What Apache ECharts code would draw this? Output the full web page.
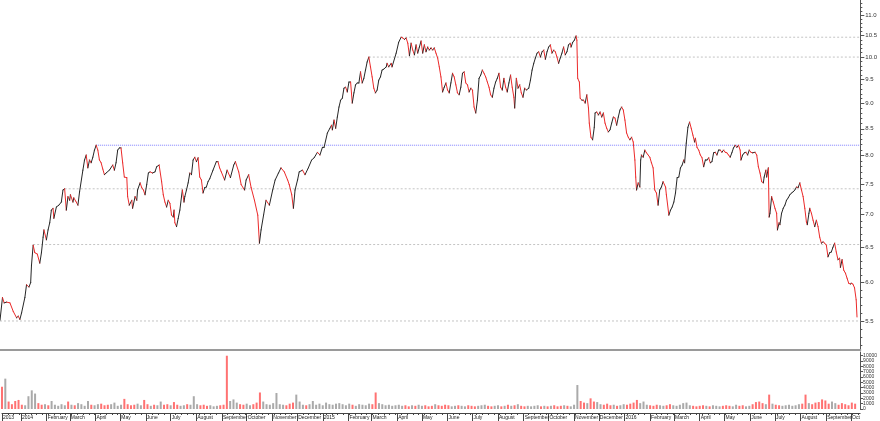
<!DOCTYPE html>
<html><head><meta charset="utf-8">
<script src="https://cdn.jsdelivr.net/npm/echarts@6/dist/echarts.min.js"></script>
<style>html,body{margin:0;padding:0;background:#fff}#c{width:880px;height:421px}</style>
</head><body><div id="c"></div>
<script>
// ---- data ----
const startDate = '2013-12-09';
const endDate = '2016-10-12';

// calendar-day offsets from startDate of each price reading
const priceDays = [
0,3,5,8,12,16,20,22,24,26,
30,32,35,37,38,40,42,45,48,50,
52,53,56,58,60,62,64,65,68,71,
74,76,78,80,82,84,85,88,89,92,
94,96,100,102,104,106,108,110,112,114,
116,118,120,122,124,126,128,132,136,138,
140,142,144,146,148,150,153,154,156,159,
160,163,165,166,169,171,173,175,177,179,
181,184,187,189,192,195,197,199,201,203,
205,207,209,210,211,213,215,217,219,220,
222,223,225,227,229,231,233,235,237,239,
241,243,245,247,249,251,253,257,261,263,
265,267,271,274,278,282,284,288,291,295,
297,300,303,307,311,313,315,318,321,325,
329,332,336,339,343,347,349,352,354,356,
359,361,365,368,372,376,379,383,386,389,
391,395,398,400,401,403,405,407,409,411,
413,415,417,419,421,423,425,427,429,431,
433,435,437,439,441,443,445,447,449,451,
453,455,457,459,461,463,466,467,469,472,
473,478,481,484,486,488,490,492,494,496,
498,500,502,504,506,508,510,512,514,516,
518,520,522,524,526,528,530,532,534,536,
538,540,542,544,546,548,550,552,554,556,
558,560,562,564,566,568,570,572,574,576,
578,580,582,584,586,588,590,592,594,596,
598,600,602,604,606,608,610,612,614,616,
618,620,621,623,625,627,629,631,633,635,
638,640,642,644,646,648,650,652,654,656,
658,660,662,664,666,668,670,672,674,676,
678,680,682,684,686,688,689,691,693,695,
696,697,699,700,702,704,706,708,710,711,
713,715,717,718,720,722,724,726,728,730,
732,734,736,738,740,742,744,746,748,750,
752,754,756,758,760,762,764,766,767,768,
770,772,773,774,776,778,780,782,784,786,
788,790,792,794,796,798,800,803,804,807,
809,811,813,815,817,819,821,823,825,826,
828,830,832,834,836,838,839,841,843,845,
847,849,851,853,855,857,859,861,863,865,
867,869,871,873,875,877,879,881,883,885,
887,889,891,893,894,896,898,900,902,904,
906,908,911,913,915,917,919,921,922,924,
925,927,928,929,931,933,935,937,938,940,
941,943,945,947,949,951,953,955,957,959,
961,963,965,967,969,971,973,974,976,977,
979,981,983,985,987,989,991,993,995,997,
999,1001,1003,1005,1007,1009,1011,1013,1014,1016,
1018,1020,1022,1024,1026,1027,1029,1031,1033,1034
];

const prices = [
5.51,5.80,5.73,5.74,5.73,5.62,5.54,5.56,5.52,5.60,
5.80,5.97,5.94,6.00,6.24,6.53,6.42,6.40,6.27,6.42,
6.65,6.76,6.61,6.76,6.87,7.07,7.10,6.94,7.12,7.15,
7.20,7.40,7.42,7.07,7.29,7.23,7.32,7.20,7.27,7.20,
7.15,7.37,7.74,7.92,8.01,7.78,7.92,7.87,7.97,8.10,
8.19,8.10,7.92,7.87,7.76,7.66,7.69,7.74,7.83,7.74,
7.87,8.10,8.14,8.14,7.87,7.62,7.61,7.29,7.15,7.23,
7.10,7.29,7.23,7.40,7.52,7.44,7.40,7.32,7.49,7.69,
7.71,7.69,7.71,7.80,7.83,7.54,7.32,7.20,7.12,7.23,
7.18,6.99,6.96,7.07,6.87,6.81,6.94,7.07,7.29,7.40,
7.20,7.29,7.40,7.52,7.69,7.66,7.92,7.97,7.89,7.96,
7.62,7.57,7.35,7.44,7.45,7.54,7.59,7.74,7.89,7.89,
7.78,7.71,7.57,7.74,7.61,7.83,7.89,7.71,7.49,7.40,
7.57,7.66,7.44,7.23,6.99,6.56,6.76,6.99,7.23,7.15,
7.40,7.57,7.69,7.78,7.71,7.57,7.49,7.32,7.10,7.40,
7.57,7.71,7.74,7.66,7.78,7.92,7.96,8.06,8.01,8.15,
8.15,8.42,8.51,8.57,8.48,8.67,8.51,8.73,8.93,9.07,
9.11,9.32,9.34,9.24,9.45,9.45,9.01,9.22,9.39,9.43,
9.43,9.67,9.43,9.53,9.71,9.89,10.00,9.78,9.56,9.32,
9.22,9.28,9.49,9.56,9.71,9.73,9.78,9.86,9.78,9.86,
9.78,10.09,10.34,10.46,10.44,10.41,10.44,10.32,10.03,10.32,
10.16,10.05,10.28,10.09,10.23,10.37,10.09,10.28,10.12,10.23,
10.16,10.21,10.16,10.21,10.09,9.98,9.78,9.56,9.24,9.34,
9.43,9.28,9.22,9.43,9.64,9.56,9.39,9.22,9.18,9.34,
9.64,9.67,9.43,9.39,9.24,9.32,9.28,8.93,8.81,9.07,
9.53,9.60,9.71,9.64,9.56,9.45,9.34,9.18,9.13,9.32,
9.45,9.53,9.64,9.34,9.28,9.53,9.34,9.24,9.43,9.60,
9.34,9.13,8.91,9.53,9.32,9.39,9.22,9.13,9.32,9.28,
9.32,9.49,9.71,9.86,9.98,10.09,10.12,10.00,10.12,10.16,
9.95,10.12,10.23,10.28,10.09,10.16,10.12,10.00,9.86,9.98,
10.09,10.23,10.05,10.12,10.28,10.32,10.23,10.34,10.39,10.49,
10.39,9.53,9.45,9.11,9.07,9.07,9.01,9.18,8.91,8.61,
8.34,8.29,8.53,8.81,8.83,8.77,8.83,8.73,8.81,8.61,
8.51,8.44,8.48,8.61,8.73,8.71,8.57,8.73,8.87,8.93,
8.87,8.67,8.42,8.34,8.29,8.34,8.25,7.92,7.62,7.40,
7.52,7.45,7.92,8.01,7.97,8.10,8.05,8.01,7.97,7.87,
7.78,7.40,7.35,7.15,7.40,7.45,7.54,7.45,7.32,6.99,
7.07,7.12,7.20,7.35,7.61,7.62,7.78,7.83,7.92,7.87,
8.23,8.53,8.63,8.51,8.38,8.25,8.32,8.15,8.10,8.01,
7.96,7.80,7.92,7.92,7.96,7.87,7.89,8.05,8.06,8.01,
8.10,8.10,8.06,8.10,8.06,8.05,8.01,7.97,8.05,8.14,
8.19,8.15,8.19,8.10,7.92,8.01,8.05,8.06,8.01,8.10,
8.06,8.05,8.06,8.01,7.80,7.69,7.54,7.52,7.62,7.74,
7.62,7.78,6.96,7.02,7.29,7.20,7.10,7.02,6.76,6.87,
6.84,7.02,7.10,7.15,7.23,7.27,7.32,7.35,7.37,7.40,
7.45,7.44,7.52,7.40,7.29,7.10,6.88,6.84,7.02,7.10,
7.02,6.91,6.81,6.91,6.81,6.65,6.56,6.58,6.56,6.53,
6.36,6.42,6.43,6.50,6.56,6.43,6.32,6.34,6.21,6.32,
6.17,6.13,6.06,5.99,5.98,5.99,5.98,5.93,5.77,5.55
];

// volume, one reading every 4 calendar days from startDate
const volumeStepDays = 4;
const volumes = [
4200,5700,1400,900,1500,1700,800,700,2400,3500,
2900,1100,800,900,700,1500,800,600,900,700,
1400,800,700,1100,900,600,1500,800,700,900,
1000,700,800,900,1200,600,800,1900,900,700,
800,1000,700,1700,900,600,800,700,1400,800,
900,700,1300,800,600,700,900,800,2400,900,
700,800,600,700,500,600,700,800,10000,1500,
1800,1200,900,800,1000,700,900,1200,3100,1400,
900,800,1100,3000,900,800,700,1000,1200,2700,
1400,800,700,900,1500,800,1000,700,1200,900,
800,1000,1100,900,700,1000,800,600,900,800,
700,1000,900,3100,1100,900,700,800,600,700,
800,600,700,500,700,600,800,600,700,500,
600,900,700,600,800,700,500,600,700,600,
500,700,600,500,600,700,800,600,500,600,
700,500,600,800,600,700,900,600,500,600,
500,600,700,500,600,500,600,700,500,600,
700,600,500,800,4500,1500,1200,1100,2000,1400,
1300,900,800,1000,700,800,600,700,900,800,
1000,1200,1700,1100,1400,800,700,600,800,700,
600,700,900,700,600,800,1100,1200,700,600,
500,600,700,600,500,700,600,500,600,700,
600,500,800,600,700,500,600,900,1300,1400,
1100,900,2700,1000,800,700,600,700,800,600,
700,900,1000,2700,1100,900,1200,1300,1800,1600,
1000,1400,1100,800,1100,900,700,1200,1000
];

// horizontal support / resistance levels and the day each one starts
const levelValues = [5.5, 6.54, 7.42, 8.19, 10.0, 10.46];
const levelStartDays = [0, 40, 78, 116, 445, 484];

// tick labels
const priceTickLabels = [5.5,6.0,6.5,7.0,7.5,8.0,8.5,9.0,9.5,10.0,10.5,11.0];
const volumeTickLabels = [0,1000,2000,3000,4000,5000,6000,7000,8000,9000,10000];
const monthStarts = ['2013-12-09','2014-01-01','2014-02-01','2014-03-01','2014-04-01','2014-05-01','2014-06-01','2014-07-01','2014-08-01','2014-09-01','2014-10-01','2014-11-01','2014-12-01',
 '2015-01-01','2015-02-01','2015-03-01','2015-04-01','2015-05-01','2015-06-01','2015-07-01','2015-08-01','2015-09-01','2015-10-01','2015-11-01','2015-12-01',
 '2016-01-01','2016-02-01','2016-03-01','2016-04-01','2016-05-01','2016-06-01','2016-07-01','2016-08-01','2016-09-01','2016-10-01'];
const monthLabels = ['2013','2014','February','March','April','May','June','July','August','September','October','November','December',
 '2015','February','March','April','May','June','July','August','September','October','November','December',
 '2016','February','March','April','May','June','July','August','September','Oct'];

// ---- build ----
const DAY = 86400000;
const dayOf = s => Math.round((Date.parse(s) - Date.parse(startDate)) / DAY);
const maxDay = dayOf(endDate);
const ln = Math.log;
const yMin = ln(5.15), yMax = ln(11.38);
const UP = '#262626', DOWN = '#ec2a2a';
const FONT = "'Liberation Sans', Arial, sans-serif";

const segData = [];
for (let i = 1; i < prices.length; i++) {
  segData.push([priceDays[i], ln(prices[i]), priceDays[i-1], ln(prices[i-1])]);
}
function priceAt(d) {
  if (d <= priceDays[0]) return prices[0];
  for (let i = 1; i < priceDays.length; i++) {
    if (d <= priceDays[i]) {
      const t = (d - priceDays[i-1]) / (priceDays[i] - priceDays[i-1]);
      return prices[i-1] + t * (prices[i] - prices[i-1]);
    }
  }
  return prices[prices.length-1];
}
const volData = volumes.map((v, i) => {
  const d = i * volumeStepDays;
  const down = i > 0 ? priceAt(d) < priceAt(d - volumeStepDays) : true;
  return { value: [d, v], itemStyle: { color: down ? '#ff7272' : '#aaaaaa' } };
});
const monthDays = monthStarts.map(dayOf);
const labelByDay = {};
monthDays.forEach((d, i) => { labelByDay[d] = monthLabels[i]; });
const weekDays = [];
for (let d = 0; d <= maxDay; d += 7) weekDays.push(d);
const priceMinor = [];
for (let k = 52; k <= 113; k++) priceMinor.push(ln(k / 10));
const priceMajor = priceTickLabels.map(ln);

const levelSeries = levelValues.map((lv, i) => ({
  type: 'line', xAxisIndex: 0, yAxisIndex: 0, silent: true, symbol: 'none', z: 1,
  data: [[levelStartDays[i], ln(lv)], [maxDay, ln(lv)]],
  lineStyle: i === 3 ? { color: '#7f7fff', width: 1, type: [1, 1] } : { color: '#c4c4c4', width: 1, type: [2, 2] }
}));

const chart = echarts.init(document.getElementById('c'), null, { renderer: 'canvas' });
chart.setOption({
  animation: false,
  backgroundColor: '#ffffff',
  grid: [
    { left: 0, top: 0, width: 862, height: 350 },
    { left: 0, top: 352, width: 862, height: 57 }
  ],
  xAxis: [
    { type: 'value', gridIndex: 0, min: 0, max: maxDay, position: 'bottom',
      axisLine: { show: true, onZero: false, lineStyle: { color: '#9a9a9a', width: 2 } },
      axisTick: { show: false }, axisLabel: { show: false }, splitLine: { show: false } },
    { type: 'value', gridIndex: 1, min: 0, max: maxDay, position: 'bottom', offset: 4,
      axisLine: { show: true, onZero: false, lineStyle: { color: '#444', width: 1 } },
      axisTick: { show: true, customValues: monthDays, length: 8, lineStyle: { color: '#444' } },
      axisLabel: { show: true, customValues: monthDays, formatter: v => labelByDay[Math.round(v)] || '',
        hideOverlap: false, showMinLabel: true, showMaxLabel: true,
        fontSize: 5, color: '#222', align: 'left', margin: 2, padding: [0, 0, 0, 1], fontFamily: FONT },
      splitLine: { show: false } },
    { type: 'value', gridIndex: 1, min: 0, max: maxDay, position: 'bottom', offset: 4,
      axisLine: { show: false, onZero: false },
      axisTick: { show: true, customValues: weekDays, length: 2, lineStyle: { color: '#444' } },
      axisLabel: { show: false }, splitLine: { show: false } }
  ],
  yAxis: [
    { type: 'value', gridIndex: 0, position: 'right', min: yMin, max: yMax,
      axisLine: { show: true, onZero: false, lineStyle: { color: '#555' } },
      axisTick: { show: true, customValues: priceMinor, length: 2, lineStyle: { color: '#555' } },
      axisLabel: { show: true, customValues: priceMajor, formatter: v => Math.exp(v).toFixed(1),
        hideOverlap: false, fontSize: 6, color: '#333', margin: 5, fontFamily: FONT },
      splitLine: { show: false } },
    { type: 'value', gridIndex: 0, position: 'right', min: yMin, max: yMax,
      axisLine: { show: false, onZero: false },
      axisTick: { show: true, customValues: priceMajor, length: 4, lineStyle: { color: '#555' } },
      axisLabel: { show: false }, splitLine: { show: false } },
    { type: 'value', gridIndex: 1, position: 'right', min: 0, max: 10700,
      axisLine: { show: true, onZero: false, lineStyle: { color: '#555' } },
      axisTick: { show: true, customValues: volumeTickLabels, length: 3, lineStyle: { color: '#555' } },
      axisLabel: { show: true, customValues: volumeTickLabels, formatter: v => String(Math.round(v)),
        hideOverlap: false, fontSize: 5, color: '#333', margin: 3, fontFamily: FONT },
      splitLine: { show: false } }
  ],
  series: levelSeries.concat([
    { type: 'custom', xAxisIndex: 0, yAxisIndex: 0, z: 3, silent: true,
      data: segData, encode: { x: [0, 2], y: [1, 3] },
      renderItem: function (params, api) {
        const p1 = api.coord([api.value(0), api.value(1)]);
        const p0 = api.coord([api.value(2), api.value(3)]);
        const up = api.value(1) >= api.value(3);
        return { type: 'line', shape: { x1: p0[0], y1: p0[1], x2: p1[0], y2: p1[1] },
          style: { stroke: up ? UP : DOWN, lineWidth: 1, lineCap: 'round' } };
      } },
    { type: 'bar', xAxisIndex: 1, yAxisIndex: 2, barWidth: 2, silent: true, z: 2, data: volData }
  ])
});
</script></body></html>
